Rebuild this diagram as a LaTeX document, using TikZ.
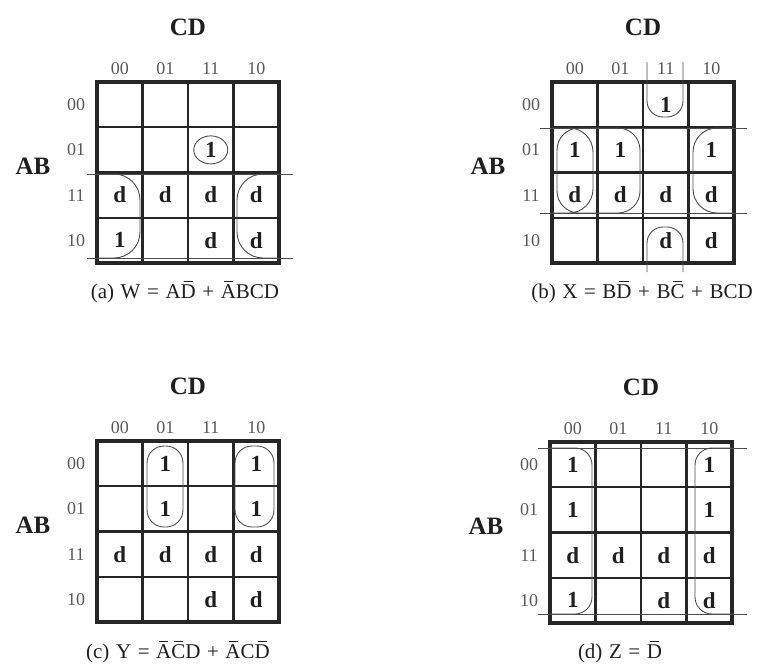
\documentclass[tikz,border=0pt]{standalone}
\usepackage{fontspec}
\setmainfont{Liberation Serif}
\newfontfamily\capfont[WordSpace=1.25]{Liberation Serif}
\definecolor{gridc}{gray}{0.15}
\definecolor{loopc}{gray}{0.3}
\definecolor{txtc}{gray}{0.12}
\definecolor{hdrc}{gray}{0.35}
% short bar over one letter, as in the reference
\newcommand\ovl[1]{\setbox0\hbox{#1}\leavevmode\rlap{\hbox to\wd0{\hss\raisebox{1.22\ht0}{\rule{0.6\wd0}{0.7pt}}\hss}}\box0\relax}
\def\cw{45.5}
\def\ch{45.25}
\tikzset{
  gridline/.style={line width=2.2pt, draw=gridc},
  border/.style={line width=3.2pt, draw=gridc},
  grouploop/.style={line width=0.9pt, draw=loopc},
  celltxt/.style={font=\fontsize{23}{23}\selectfont\bfseries, text=txtc, inner sep=0pt},
  hdr/.style={font=\fontsize{18}{18}\selectfont, text=hdrc, inner sep=0pt},
  lbl/.style={font=\fontsize{25}{25}\selectfont\bfseries, text=txtc, inner sep=0pt},
  captxt/.style={font=\capfont\fontsize{21}{21}\selectfont, text=txtc, inner sep=0pt},
}
% grid, headers, labels
\newcommand\kmapgrid[1]{%
  \foreach \i in {1,2,3} {
    \draw[gridline] (\i*\cw,0) -- (\i*\cw,4*\ch);
    \draw[gridline] (0,\i*\ch) -- (4*\cw,\i*\ch);
  }
  \draw[border] (0,0) rectangle (4*\cw,4*\ch);
  \foreach \l [count=\k from 0] in {00,01,11,10} {
    \node[hdr] (#1-c\l) at ({(\k+0.5)*\cw}, -13) {\l};
    \node[hdr] (#1-r\l) at (-21, {(\k+0.5)*\ch}) {\l};
  }
  \node[lbl] (#1-CD) at (2*\cw, -55) {CD};
  \node[lbl] (#1-AB) at (-64, 84) {AB};
}
% cells: list of col/row/text (indices 0..3)
\newcommand\kmapcells[2]{%
  \foreach \c/\r/\t in {#2} {
    \node[celltxt] (#1-\c\r) at ({(\c+0.5)*\cw}, {(\r+0.5)*\ch}) {\t};
  }
}
\begin{document}
\begin{tikzpicture}[x=1pt, y=-1pt]
\useasboundingbox (0,0) rectangle (760,664);

% ---------------- (a)
\begin{scope}[shift={(97,82)}]
  \kmapgrid{a}
  \kmapcells{a}{2/1/1, 0/2/d, 1/2/d, 2/2/d, 3/2/d, 0/3/1, 2/3/d, 3/3/d}
  \draw[grouploop] (2.5*\cw,1.5*\ch) ellipse [x radius=17, y radius=14];
  \draw[grouploop] (-10,92) -- (196,92);
  \draw[grouploop] (-10,176) -- (196,176);
  \draw[grouploop, rounded corners=26] (0,92) -- (43,92) -- (43,176) -- (0,176);
  \draw[grouploop, rounded corners=26] (4*\cw,92) -- (140,92) -- (140,176) -- (4*\cw,176);
  \node[captxt] (a-cap) at (88,210) {(a) W = A\ovl{D} + \ovl{A}BCD};
\end{scope}

% ---------------- (b)
\begin{scope}[shift={(552,82)}]
  \kmapgrid{b}
  \kmapcells{b}{2/0/1, 0/1/1, 1/1/1, 3/1/1, 0/2/d, 1/2/d, 2/2/d, 3/2/d, 2/3/d, 3/3/d}
  % BCD (wrap vertically)
  \draw[grouploop, rounded corners=16] (95,-20) -- (95,35) -- (131,35) -- (131,-20);
  \draw[grouploop, rounded corners=16] (95,190) -- (95,145) -- (131,145) -- (131,190);
  % B D' (wrap horizontally)
  \draw[grouploop] (-12,46) -- (195,46);
  \draw[grouploop] (-12,131) -- (195,131);
  \draw[grouploop, rounded corners=24] (0,46) -- (41,46) -- (41,131) -- (0,131);
  \draw[grouploop, rounded corners=24] (4*\cw,46) -- (141,46) -- (141,131) -- (4*\cw,131);
  % B C'
  \draw[grouploop, rounded corners=22] (5,46) rectangle (88,131);
  \node[captxt] (b-cap) at (90,210) {(b) X = B\ovl{D} + B\ovl{C} + BCD};
\end{scope}

% ---------------- (c)
\begin{scope}[shift={(97,441)}]
  \kmapgrid{c}
  \kmapcells{c}{1/0/1, 3/0/1, 1/1/1, 3/1/1, 0/2/d, 1/2/d, 2/2/d, 3/2/d, 2/3/d, 3/3/d}
  \draw[grouploop, rounded corners=17] (50,5) rectangle (86,86);
  \draw[grouploop, rounded corners=17] (138,5) rectangle (177,86);
  \node[captxt] (c-cap) at (81,211) {(c) Y = \ovl{A}\ovl{C}D + \ovl{A}C\ovl{D}};
\end{scope}

% ---------------- (d)
\begin{scope}[shift={(550,442)}]
  \kmapgrid{d}
  \kmapcells{d}{0/0/1, 3/0/1, 0/1/1, 3/1/1, 0/2/d, 1/2/d, 2/2/d, 3/2/d, 0/3/1, 2/3/d, 3/3/d}
  \draw[grouploop] (-12,6) -- (197,6);
  \draw[grouploop] (-12,172) -- (197,172);
  \draw[grouploop, rounded corners=17] (0,6) -- (42,6) -- (42,172) -- (0,172);
  \draw[grouploop, rounded corners=17] (4*\cw,6) -- (145,6) -- (145,172) -- (4*\cw,172);
  \node[captxt] (d-cap) at (70,210) {(d) Z = \ovl{D}};
\end{scope}
\end{tikzpicture}
\end{document}
